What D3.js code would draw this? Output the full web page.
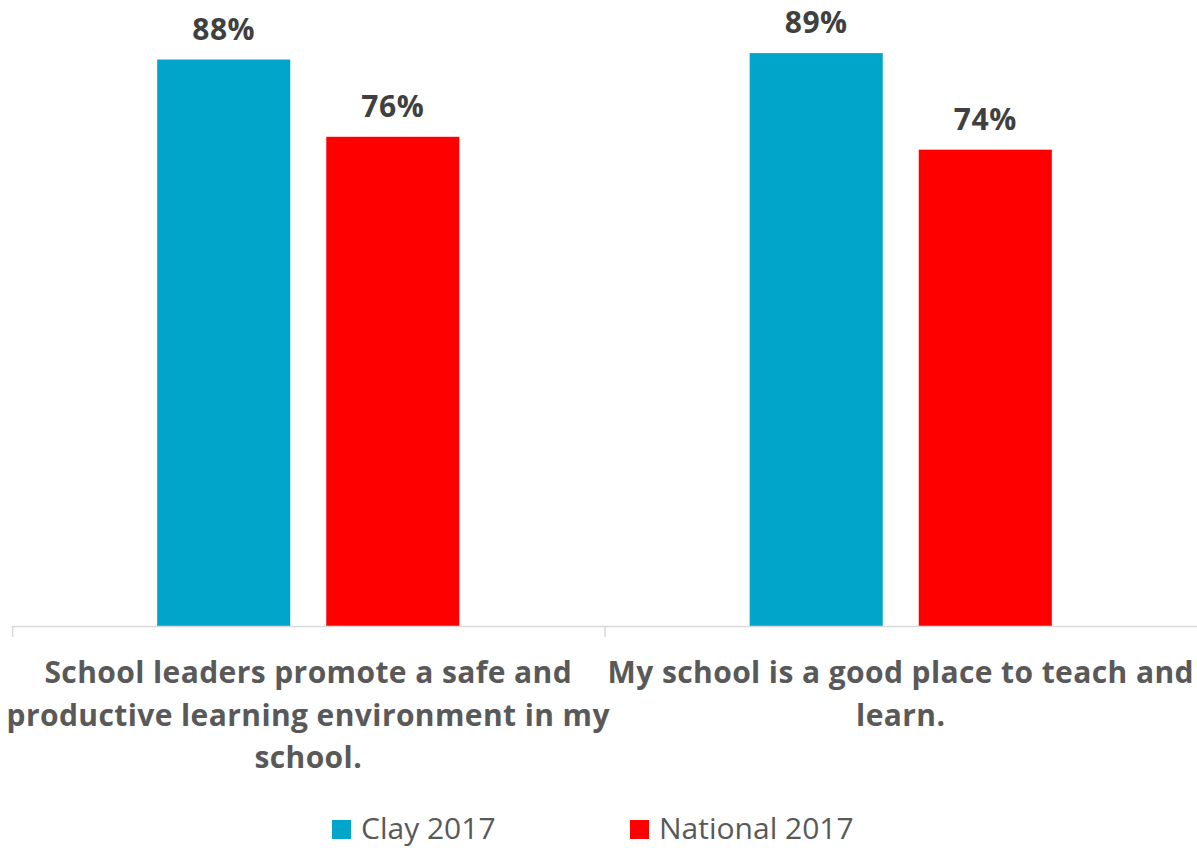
<!DOCTYPE html>
<html>
<head>
<meta charset="utf-8">
<script src="https://cdn.jsdelivr.net/npm/d3@7"></script>
<style>
  body { margin: 0; background: #fff; }
  svg { display: block; font-family: "Open Sans", "Noto Sans", sans-serif; }
</style>
</head>
<body>
<svg id="chart" width="1197" height="848"></svg>
<script>
// data
var categories = ["School leaders promote a safe and productive learning environment in my school.",
                  "My school is a good place to teach and learn."]
var categoryLines = [["School leaders promote a safe and", "productive learning environment in my", "school."],
                     ["My school is a good place to teach and", "learn."]]
var series = ["Clay 2017", "National 2017"]
var clayValues = [88, 89]
var nationalValues = [76, 74]
var colors = ["#00a5c9", "#ff0000"]

var svg = d3.select("#chart")
var baseY = 626

var x0 = d3.scaleBand().domain(categories).range([12, 1197]).padding(0)
var groupW = x0.bandwidth() * 0.51
var x1 = d3.scaleBand().domain(series).range([0, groupW]).paddingInner(0.213).paddingOuter(0)
var y = d3.scaleLinear().domain([0, 100]).range([baseY, baseY - 643.7])

var table = categories.map(function(c, i) {
    return {cat: c, i: i, vals: [{s: series[0], v: clayValues[i]}, {s: series[1], v: nationalValues[i]}]}
})

var groups = svg.selectAll("g.grp").data(table).enter().append("g")
    .attr("class", "grp")
    .attr("transform", function(d) { return "translate(" + (x0(d.cat) + (x0.bandwidth() - groupW) / 2) + ",0)" })

groups.selectAll("rect").data(function(d) { return d.vals }).enter().append("rect")
    .attr("x", function(d) { return x1(d.s) })
    .attr("y", function(d) { return y(d.v) })
    .attr("width", x1.bandwidth())
    .attr("height", function(d) { return baseY - y(d.v) })
    .style("fill", function(d, j) { return colors[j] })

groups.selectAll("text.val").data(function(d) { return d.vals }).enter().append("text")
    .attr("class", "val")
    .attr("x", function(d) { return x1(d.s) + x1.bandwidth() / 2 })
    .attr("y", function(d) { return y(d.v) - 20 })
    .attr("text-anchor", "middle")
    .style("font-size", "30px")
    .style("font-weight", "bold")
    .style("letter-spacing", "0.5px")
    .style("fill", "#404040")
    .text(function(d) { return d.v + "%" })

// axis line with ticks at the category edges
var axis = svg.append("g")
axis.append("line")
    .attr("x1", 12).attr("x2", 1197).attr("y1", baseY + 0.5).attr("y2", baseY + 0.5)
    .style("stroke", "#d9d9d9").style("stroke-width", 1.5)
var edges = categories.map(function(c) { return x0(c) })
axis.selectAll("line.tick").data(edges).enter().append("line")
    .attr("class", "tick")
    .attr("x1", function(d) { return d + 0.5 }).attr("x2", function(d) { return d + 0.5 })
    .attr("y1", baseY).attr("y2", baseY + 11)
    .style("stroke", "#d9d9d9").style("stroke-width", 1.5)

// category labels
var catLabels = svg.selectAll("text.cat").data(table).enter().append("text")
    .attr("class", "cat")
    .attr("text-anchor", "middle")
    .style("font-size", "30px")
    .style("font-weight", "bold")
    .style("letter-spacing", "0.4px")
    .style("fill", "#595959")
catLabels.selectAll("tspan").data(function(d) { return categoryLines[d.i].map(function(l) { return {l: l, c: d.cat} }) })
    .enter().append("tspan")
    .attr("x", function(d) { return x0(d.c) + x0.bandwidth() / 2 })
    .attr("y", function(d, k) { return 683 + k * 42.5 })
    .text(function(d) { return d.l })

// legend
var legendX = [332, 630]
var legend = svg.selectAll("g.leg").data(series).enter().append("g")
    .attr("class", "leg")
    .attr("transform", function(d, i) { return "translate(" + legendX[i] + ",820)" })
legend.append("rect").attr("width", 19).attr("height", 19)
    .style("fill", function(d, i) { return colors[i] })
legend.append("text").attr("x", 29).attr("y", 19)
    .style("font-size", "30px")
    .style("fill", "#595959")
    .text(function(d) { return d })
</script>
</body>
</html>
